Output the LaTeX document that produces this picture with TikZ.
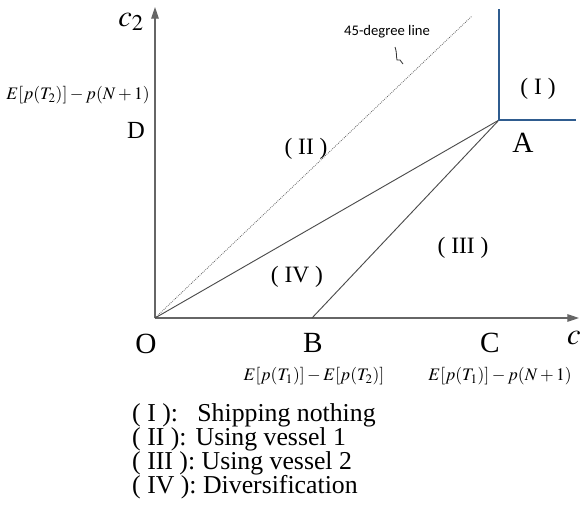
\documentclass[tikz,border=0pt]{standalone}
\usepackage{mathptmx}
\usepackage[no-math]{fontspec}
\setmainfont{Liberation Serif}
\newfontfamily\notefont{Carlito}
\usetikzlibrary{arrows.meta}
\definecolor{bndblue}{HTML}{2F5C8F}

\begin{document}
\begin{tikzpicture}[x=0.03cm, y=-0.03cm,
  >={Triangle[length=10pt, width=6.5pt]},
  ax/.style={->, draw=black!60, line width=0.9pt},
  bnd/.style={draw=black!70, line width=0.8pt},
  blu/.style={draw=bndblue, line width=1pt},
  dotl/.style={draw=black!60, densely dotted, line width=0.7pt},
  pt/.style={font=\fontsize{25}{28}\selectfont, inner sep=0pt},
  reg/.style={font=\fontsize{20}{22}\selectfont, inner sep=0pt},
  val/.style={font=\fontsize{15}{18}\selectfont, inner sep=0pt},
  leg/.style={font=\fontsize{22}{20}\selectfont, inner sep=0pt, anchor=base west}]
  \useasboundingbox (0,0) rectangle (583,527);
  % points of the plane
  \coordinate (O) at (155,318);
  \coordinate (A) at (499,120);
  \coordinate (B) at (312,318);
  \coordinate (xend) at (579,318);
  \coordinate (yend) at (155,7);
  \coordinate (dend) at (472,16);
  \coordinate (Atop) at (499,9);
  \coordinate (Aright) at (576,120);
  % axes and boundaries
  \draw[ax] (O) -- (xend);
  \draw[ax] (O) -- (yend);
  \draw[dotl] (O) -- (dend);
  \draw[bnd] (O) -- (A);
  \draw[bnd] (B) -- (A);
  \draw[blu] (Atop) -- (A) -- (Aright);
  % point names
  \node[pt] (lO) at (146,344) {O};
  \node[pt] (lB) at (313,343) {B};
  \node[pt] (lC) at (490,343) {C};
  \node[pt] (lA) at (523,143) {A};
  \node[pt, font=\fontsize{21}{22}\selectfont] (lD) at (136,130) {D};
  \node[pt, font=\fontsize{26}{30}\selectfont] (c2) at (131,22) {$c_2$};
  \node[pt, font=\fontsize{26}{30}\selectfont, anchor=west] (c1) at (567,340) {$c_1$};
  % axis values
  \node[val, anchor=east] (vD) at (150,95) {$E[p(T_2)]-p(N+1)$};
  \node[val] (vB) at (314,376) {$E[p(T_1)]-E[p(T_2)]$};
  \node[val] (vC) at (500,376) {$E[p(T_1)]-p(N+1)$};
  % regions
  \node[reg] (r1) at (538,89) {( I )};
  \node[reg] (r2) at (306,149) {( II )};
  \node[reg] (r3) at (463,248) {( III )};
  \node[reg] (r4) at (297,277) {( IV )};
  % note on the dotted line
  \node[font=\notefont\fontsize{12.5}{14}\selectfont, inner sep=0pt] (note) at (387,32) {45-degree line};
  \draw[black!80, line width=0.7pt] (395,47) .. controls (397,52) and (396,56) .. (397,60)
    -- (400,60) -- (403,64);
  % legend
  \foreach \t [count=\i] in {{( I ):\hspace{0.75em}Shipping nothing},
                             {( II ):\hspace{0.35em}Using vessel 1},
                             {( III ): Using vessel 2},
                             {( IV ): Diversification}}
    \node[leg] (leg\i) at (132,397+24*\i) {\t};
\end{tikzpicture}
\end{document}
